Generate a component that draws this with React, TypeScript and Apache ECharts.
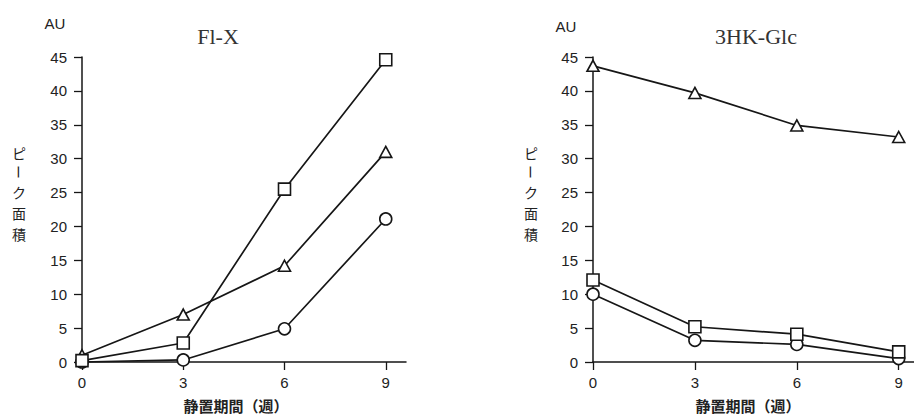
import React, { useEffect, useRef } from "react";
import * as echarts from "echarts";

// Storage period in weeks
const weeks = [0, 3, 6, 9];
const xTickValues = [0, 3, 6, 9];

// Fl-X peak area (AU)
const flxSquare = [0.2, 2.8, 25.5, 44.6];
const flxTriangle = [1.0, 7.0, 14.2, 31.0];
const flxCircle = [0.0, 0.3, 4.9, 21.1];

// 3HK-Glc peak area (AU)
const hkTriangle = [43.7, 39.7, 34.9, 33.2];
const hkSquare = [12.1, 5.2, 4.1, 1.5];
const hkCircle = [10.0, 3.2, 2.6, 0.5];

const panelTitles = ["Fl-X", "3HK-Glc"];
const unitLabel = "AU";
const yNameChars = ["ピ", "ー", "ク", "面", "積"];
const xName = "静置期間（週）";

const INK = "#161616";
const SANS = "'Liberation Sans', Arial, sans-serif";
const SERIF = "'Liberation Serif', 'Times New Roman', serif";
const CJK = "'Noto Sans CJK JP', sans-serif";

const pair = (vals: number[]) => weeks.map((w, i) => [w, vals[i]]);

function lineSeries(idx: number, vals: number[], symbol: string, size: number | number[]) {
  return {
    type: "line",
    xAxisIndex: idx,
    yAxisIndex: idx,
    data: pair(vals),
    symbol,
    symbolSize: size,
    showAllSymbol: true,
    clip: false,
    lineStyle: { color: INK, width: 1.7 },
    itemStyle: { color: "#ffffff", borderColor: INK, borderWidth: 1.6 },
    emphasis: { disabled: true },
  };
}

function xAxisDef(idx: number, max: number) {
  return {
    type: "value",
    gridIndex: idx,
    min: 0,
    max,
    axisLine: { show: true, onZero: false, lineStyle: { color: INK, width: 1.5 } },
    axisTick: { show: true, inside: false, length: 8, customValues: xTickValues, lineStyle: { color: INK, width: 1.3 } },
    axisLabel: { customValues: xTickValues, margin: 13, fontSize: 15, color: "#222", fontFamily: SANS },
    splitLine: { show: false },
  };
}

function yAxisDef(idx: number) {
  return {
    type: "value",
    gridIndex: idx,
    min: 0,
    max: 45,
    interval: 5,
    axisLine: { show: true, onZero: false, lineStyle: { color: INK, width: 1.5 } },
    axisTick: { show: true, inside: false, length: 8, lineStyle: { color: INK, width: 1.3 } },
    axisLabel: { margin: 15, fontSize: 15, color: "#222", fontFamily: SANS },
    splitLine: { show: false },
  };
}

function textEl(text: string, x: number, y: number, font: string, fill: string, rotation = 0) {
  return {
    type: "text",
    x,
    y,
    rotation,
    style: {
      text,
      font,
      fill,
      textAlign: "center",
      textVerticalAlign: "middle",
      align: "center",
      verticalAlign: "middle",
    },
  };
}

// Vertical axis title, one character per line; the long-vowel mark turns upright
function verticalName(cx: number) {
  const ys = [153, 172, 192, 213, 234];
  return yNameChars.map((ch, i) =>
    textEl(ch, cx, ys[i], `14px ${CJK}`, "#222", ch === "ー" ? -Math.PI / 2 : 0)
  );
}

export default function App() {
  const ref = useRef<HTMLDivElement>(null);

  useEffect(() => {
    if (!ref.current) return;
    const chart = echarts.init(ref.current, null, { renderer: "svg" });
    chart.setOption({
      animation: false,
      backgroundColor: "#ffffff",
      grid: [
        { left: 82, top: 57, width: 324, height: 305 },
        { left: 593, top: 57, width: 321, height: 305 },
      ],
      xAxis: [xAxisDef(0, 9.6), xAxisDef(1, 9.45)],
      yAxis: [yAxisDef(0), yAxisDef(1)],
      series: [
        lineSeries(0, flxCircle, "circle", 12),
        lineSeries(0, flxTriangle, "triangle", [12, 11]),
        lineSeries(0, flxSquare, "rect", 12),
        lineSeries(1, hkCircle, "circle", 12),
        lineSeries(1, hkSquare, "rect", 12),
        lineSeries(1, hkTriangle, "triangle", [12, 11]),
      ],
      graphic: [
        textEl(unitLabel, 55, 23, `15px ${SANS}`, "#222"),
        textEl(unitLabel, 566, 26, `15px ${SANS}`, "#222"),
        textEl(panelTitles[0], 218, 36, `22px ${SERIF}`, "#333"),
        textEl(panelTitles[1], 756, 36, `22px ${SERIF}`, "#333"),
        ...verticalName(19),
        ...verticalName(531),
        textEl(xName, 236, 405, `bold 15px ${CJK}`, "#222"),
        textEl(xName, 748, 405, `bold 15px ${CJK}`, "#222"),
      ],
    });
    return () => chart.dispose();
  }, []);

  return (
    <div
      ref={ref}
      style={{ position: "absolute", left: 0, top: 0, width: 914, height: 414 }}
    />
  );
}
